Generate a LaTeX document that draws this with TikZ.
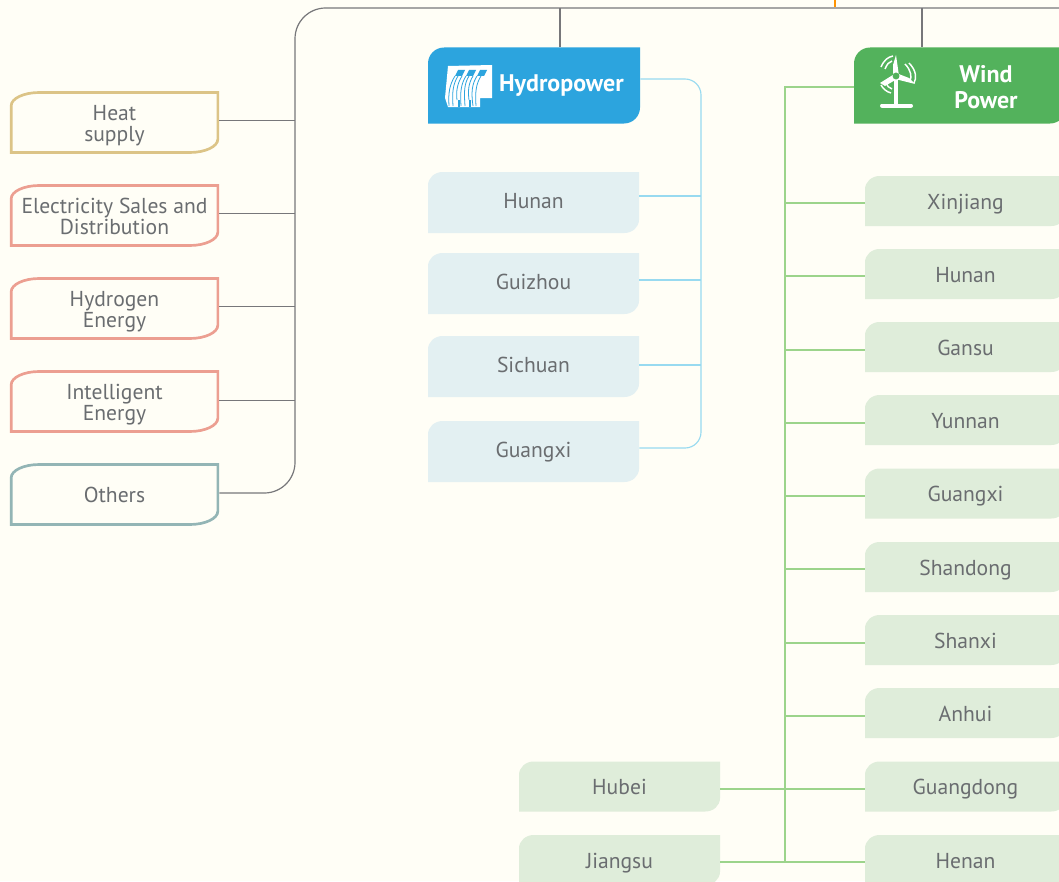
\documentclass[tikz,border=0pt]{standalone}
\usepackage{fontspec}
\setmainfont{PT Sans}
\usepackage{tikz}
\definecolor{paper}{HTML}{FFFEF6}
\definecolor{label}{HTML}{6A6D70}
\definecolor{trunkgray}{HTML}{77777A}
\definecolor{heatline}{HTML}{DCC487}
\definecolor{saleline}{HTML}{EC9F91}
\definecolor{otherline}{HTML}{93B5B5}
\definecolor{hydroblue}{HTML}{2CA4DE}
\definecolor{hydropale}{HTML}{E3F0F2}
\definecolor{hydroline}{HTML}{98DAF0}
\definecolor{windgreen}{HTML}{53B25C}
\definecolor{windpale}{HTML}{DFEDDA}
\definecolor{windline}{HTML}{9CD48B}
\tikzstyle{leaf_paint} = []
\tikzstyle{leaf} = [inner sep=0pt, align=center, text=label, font=\fontsize{16.2}{16}\selectfont,
	path picture={\path [leaf_paint] ([shift={(\leafin,\leafin)}]path picture bounding box.south west) -- ++(0,\leafh-2*\leafin-\leafry) arc[start angle=180, end angle=90, x radius=\leafrx, y radius=\leafry] -- ([shift={(-\leafin,-\leafin)}]path picture bounding box.north east) -- ++(0,-\leafh+2*\leafin+\leafry) arc[start angle=0, end angle=-90, x radius=\leafrx, y radius=\leafry] -- cycle;}]
\tikzset{leaf_size/.code n args={5}{\def\leafh{#2}\def\leafrx{#3}\def\leafry{#4}\def\leafin{#5}\tikzset{minimum width=#1, minimum height=#2}}}
\tikzstyle{side_box} = [leaf, leaf_size={157pt}{47pt}{21pt}{10pt}{1pt}]
\tikzstyle{side_heat} = [side_box, text height=30.5pt, text depth=2pt, leaf_paint/.style={draw=heatline, line width=2pt}]
\tikzstyle{side_sale} = [side_box, text height=30.5pt, text depth=2pt, leaf_paint/.style={draw=saleline, line width=2pt}]
\tikzstyle{side_other} = [side_box, text height=14pt, text depth=2.7pt, leaf_paint/.style={draw=otherline, line width=2pt}]
\tikzstyle{head_hydro} = [leaf, leaf_size={159pt}{57pt}{12pt}{12pt}{0pt}, leaf_paint/.style={fill=hydroblue}, text=white, font=\fontsize{18}{19.5}\selectfont\bfseries]
\tikzstyle{head_wind} = [leaf, leaf_size={159pt}{57pt}{12pt}{12pt}{0pt}, text height=35pt, text depth=0pt, leaf_paint/.style={fill=windgreen}, text=white, font=\fontsize{18}{19.5}\selectfont\bfseries]
\tikzstyle{prov_hydro} = [leaf, leaf_size={158.25pt}{45.75pt}{11pt}{10pt}{0pt}, text height=12.7pt, text depth=3.6pt, leaf_paint/.style={fill=hydropale}]
\tikzstyle{prov_wind} = [leaf, leaf_size={150.75pt}{37.5pt}{11pt}{10pt}{0pt}, text height=14pt, text depth=2pt, leaf_paint/.style={fill=windpale}]
\tikzstyle{trunk} = [draw=trunkgray, line width=0.9pt]
\tikzstyle{twig} = [draw=trunkgray, line width=0.75pt]
\tikzstyle{hydro_line} = [draw=hydroline, line width=0.85pt]
\tikzstyle{wind_line} = [draw=windline, line width=0.85pt]
\begin{document}
\begin{tikzpicture}[x=0.75pt, y=-0.75pt]
		\useasboundingbox [fill=paper] (0,0) rectangle (1059,881);

		\node (heat) [side_heat] at (114.5,122.5) {Heat\\supply};
		\node (sales) [side_sale] at (114.5,215.5) {Electricity Sales and\\Distribution};
		\node (hydrogen) [side_sale] at (114.5,308.5) {Hydrogen\\Energy};
		\node (intelligent) [side_sale] at (114.5,401.5) {Intelligent\\Energy};
		\node (others) [side_other] at (114.5,494.5) {Others};

		\node (hydro) [head_hydro] at (534,85.5) {\hspace*{41pt}Hydropower};
		\node (hydro_hunan) [prov_hydro] at (533.5,202.5) {Hunan};
		\node (guizhou) [prov_hydro] at (533.5,283.5) {Guizhou};
		\node (sichuan) [prov_hydro] at (533.5,366.5) {Sichuan};
		\node (hydro_guangxi) [prov_hydro] at (533.5,451.5) {Guangxi};

		\node (wind) [head_wind] at (960,85.5) {\hspace*{39pt}Wind\\\hspace*{39pt}Power};
		\node (xinjiang) [prov_wind] at (965.5,201) {Xinjiang};
		\node (wind_hunan) [prov_wind] at (965.5,274) {Hunan};
		\node (gansu) [prov_wind] at (965.5,347) {Gansu};
		\node (yunnan) [prov_wind] at (965.5,420) {Yunnan};
		\node (wind_guangxi) [prov_wind] at (965.5,493.5) {Guangxi};
		\node (shandong) [prov_wind] at (965.5,567) {Shandong};
		\node (shanxi) [prov_wind] at (965.5,640) {Shanxi};
		\node (anhui) [prov_wind] at (965.5,713) {Anhui};
		\node (guangdong) [prov_wind] at (965.5,786.5) {Guangdong};
		\node (henan) [prov_wind] at (965.5,860) {Henan};
		\node (hubei) [prov_wind] at (619.5,786.5) {Hubei};
		\node (jiangsu) [prov_wind] at (619.5,860) {Jiangsu};

		\coordinate (top_end) at (1059,8);
		\coordinate (top_corner) at (295,8);
		\coordinate (hydro_corner) at (701,79);
		\coordinate (wind_corner) at (785,87);
		\coordinate (stub_top) at (835,0);
		\coordinate (stub_end) at (835,7);

		\draw [draw=orange!85!yellow, line width=1.5pt] (stub_top) -- (stub_end);
		\draw [trunk, rounded corners=23pt] (top_end) -- (top_corner) -- (top_corner |- 0,493) -- (others.east |- 0,493);
		\draw [trunk] (top_corner -| 560,0) -- (hydro.north -| 560,0);
		\draw [trunk] (top_corner -| 922,0) -- (wind.north -| 922,0);
		\draw [twig] (heat.east |- 0,120) -- (top_corner |- 0,120);
		\draw [twig] (sales.east |- 0,213) -- (top_corner |- 0,213);
		\draw [twig] (hydrogen.east |- 0,306) -- (top_corner |- 0,306);
		\draw [twig] (intelligent.east |- 0,400) -- (top_corner |- 0,400);

		\draw [hydro_line, rounded corners=12pt] (hydro.east |- hydro_corner) -- (hydro_corner) -- (hydro_corner |- 0,448) -- (hydro_guangxi.east |- 0,448);
		\draw [hydro_line] (hydro_hunan.east |- 0,196) -- (hydro_corner |- 0,196);
		\draw [hydro_line] (guizhou.east |- 0,280) -- (hydro_corner |- 0,280);
		\draw [hydro_line] (sichuan.east |- 0,365) -- (hydro_corner |- 0,365);

		\draw [wind_line] (wind.west |- wind_corner) -- (wind_corner) -- (wind_corner |- 0,862);
		\draw [wind_line] (wind_corner |- 0,203) -- (xinjiang.west |- 0,203);
		\draw [wind_line] (wind_corner |- 0,276) -- (wind_hunan.west |- 0,276);
		\draw [wind_line] (wind_corner |- 0,350) -- (gansu.west |- 0,350);
		\draw [wind_line] (wind_corner |- 0,423) -- (yunnan.west |- 0,423);
		\draw [wind_line] (wind_corner |- 0,496) -- (wind_guangxi.west |- 0,496);
		\draw [wind_line] (wind_corner |- 0,569) -- (shandong.west |- 0,569);
		\draw [wind_line] (wind_corner |- 0,643) -- (shanxi.west |- 0,643);
		\draw [wind_line] (wind_corner |- 0,716) -- (anhui.west |- 0,716);
		\draw [wind_line] (hubei.east |- 0,789) -- (guangdong.west |- 0,789);
		\draw [wind_line] (jiangsu.east |- 0,862) -- (henan.west |- 0,862);

		\fill [white] (445,98) -- (448,66) -- (492,65) -- (492,98) -- (480,98) -- (480,107) -- (448,107) -- cycle;
		\fill [hydroblue] (458,70) -- (465,70) -- (462,76) -- (455,76) -- cycle;
		\fill [hydroblue] (469,70) -- (476,70) -- (473,76) -- (466,76) -- cycle;
		\fill [hydroblue] (480,70) -- (487,70) -- (484,76) -- (477,76) -- cycle;
		\fill [hydroblue] (458,100) -- (460,100) -- (460,107) -- (458,107) -- cycle;
		\fill [hydroblue] (469,100) -- (471,100) -- (471,107) -- (469,107) -- cycle;
		\draw [hydroblue, line width=0.6pt] (455,76) .. controls (450,84) and (448,92) .. (449,106);
		\draw [hydroblue, line width=0.6pt] (458,76) .. controls (453,84) and (452,92) .. (453,106);
		\draw [hydroblue, line width=0.6pt] (462,76) .. controls (457,84) and (456,92) .. (457,100);
		\draw [hydroblue, line width=0.6pt] (466,76) .. controls (461,84) and (460,92) .. (461,106);
		\draw [hydroblue, line width=0.6pt] (469,76) .. controls (464,84) and (464,92) .. (465,106);
		\draw [hydroblue, line width=0.6pt] (473,76) .. controls (468,84) and (468,92) .. (469,100);
		\draw [hydroblue, line width=0.6pt] (477,76) .. controls (472,84) and (471,92) .. (473,106);
		\draw [hydroblue, line width=0.6pt] (481,76) .. controls (476,84) and (475,92) .. (476,106);

		\draw [white, line width=3pt] (896,76) -- (896,105);
		\draw [white, line width=3pt, line cap=round] (882,105.5) -- (911,105.5);
		\fill [white] (893,76) -- (893,65) -- (896,55) -- (899,76) -- cycle;
		\fill [white] (896,73) -- (909,78) -- (915,84) -- (895,79) -- cycle;
		\fill [white] (896,73) -- (880,83) -- (885,86) -- (897,79) -- cycle;
		\fill [windgreen] (896,76) circle (2.6pt);
		\draw [white, line width=1.1pt] (881,67) .. controls (884,60) and (888,57) .. (893,56);
		\draw [white, line width=1.1pt] (885,69) .. controls (887,64) and (889,62) .. (892,61);
		\draw [white, line width=1.1pt] (905,64) .. controls (911,70) and (912,77) .. (910,81);
		\draw [white, line width=1.1pt] (909,63) .. controls (916,70) and (917,78) .. (914,83);
		\draw [white, line width=1.1pt] (886,83) .. controls (887,86) and (889,88) .. (892,89);
		\draw [white, line width=1.1pt] (881,85) .. controls (883,89) and (887,92) .. (891,93);
\end{tikzpicture}
\end{document}
